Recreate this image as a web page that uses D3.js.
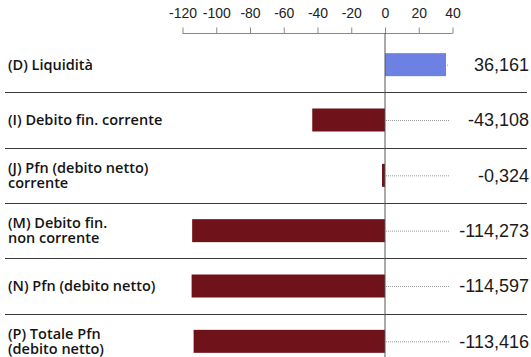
<!DOCTYPE html>
<html>
<head>
<meta charset="utf-8">
<script src="https://cdn.jsdelivr.net/npm/d3@7"></script>
<style>
html,body{margin:0;padding:0;background:#fff;}
svg{display:block;}
</style>
</head>
<body>
<svg id="chart" width="531" height="357"></svg>
<script>
const categories = [
  ["(D) Liquidità"],
  ["(I) Debito fin. corrente"],
  ["(J) Pfn (debito netto)", "corrente"],
  ["(M) Debito fin.", "non corrente"],
  ["(N) Pfn (debito netto)"],
  ["(P) Totale Pfn", "(debito netto)"]
];
const values = [36.161, -43.108, -0.324, -114.273, -114.597, -113.416];
const valueLabels = ["36,161", "-43,108", "-0,324", "-114,273", "-114,597", "-113,416"];
const tickValues = [-120, -100, -80, -60, -40, -20, 0, 20, 40];

const svg = d3.select("#chart");
const x = d3.scaleLinear().domain([-120, 40]).range([182.5, 452.5]);
const y = d3.scaleBand().domain(d3.range(categories.length)).range([37, 369]).paddingInner(0);
const rowH = y.bandwidth();
const barH = 23;

// axis
const axis = d3.axisTop(x).tickValues(tickValues).tickSize(6).tickPadding(10)
  .tickFormat(d => String(d));
const ag = svg.append("g").attr("transform", "translate(0,33.5)").call(axis);
ag.select(".domain").attr("stroke", "#8a8a8a").attr("d", `M${x(-120)},0H${x(40)}`);
ag.selectAll(".tick line").attr("stroke", "#8a8a8a");
ag.selectAll(".tick text").attr("fill", "#222").attr("font-family", "Liberation Sans, Arial, sans-serif")
  .attr("font-size", 14);

// separators
svg.selectAll("line.sep").data(d3.range(1, categories.length)).join("line")
  .attr("class", "sep")
  .attr("x1", 5).attr("x2", 527)
  .attr("y1", i => Math.round(y(i)) + 0.5).attr("y2", i => Math.round(y(i)) + 0.5)
  .attr("stroke", "#3a3a3a").attr("stroke-width", 1.2);

// dotted leaders
svg.selectAll("line.lead").data(values).join("line")
  .attr("class", "lead")
  .attr("x1", d => x(Math.max(0, d)) + 1).attr("x2", 449)
  .attr("y1", (d, i) => y(i) + rowH / 2 + 0.5).attr("y2", (d, i) => y(i) + rowH / 2 + 0.5)
  .attr("stroke", "#999").attr("stroke-width", 1).attr("stroke-dasharray", "1,1");

// bars (minimum visible width of 3px)
svg.selectAll("rect.bar").data(values).join("rect")
  .attr("class", "bar")
  .attr("x", d => Math.min(x(Math.min(0, d)), d < 0 ? x(0) - 3 : x(0)))
  .attr("width", d => Math.max(3, Math.abs(x(d) - x(0))))
  .attr("y", (d, i) => y(i) + rowH / 2 - barH / 2)
  .attr("height", barH)
  .attr("fill", d => d >= 0 ? "#6c81e1" : "#6f1219");

// zero line
svg.append("line").attr("x1", x(0)).attr("x2", x(0)).attr("y1", 33).attr("y2", 357)
  .attr("stroke", "#555").attr("stroke-width", 1);

// category labels
const lab = svg.selectAll("text.cat").data(categories).join("text")
  .attr("class", "cat")
  .attr("x", 8)
  .attr("font-family", "Open Sans, sans-serif").attr("font-weight", 600)
  .attr("font-size", 14.5).attr("fill", "#141414");
lab.each(function(lines, i) {
  const cy = y(i) + rowH / 2;
  const lh = 15.5;
  const t = d3.select(this);
  lines.forEach((l, k) => {
    t.append("tspan").attr("x", 8)
      .attr("y", cy + (k - (lines.length - 1) / 2) * lh)
      .attr("dy", "0.35em").text(l);
  });
});

// value labels
svg.selectAll("text.val").data(valueLabels).join("text")
  .attr("class", "val")
  .attr("x", 529).attr("text-anchor", "end")
  .attr("y", (d, i) => y(i) + rowH / 2).attr("dy", "0.35em")
  .attr("font-family", "Liberation Sans, Arial, sans-serif").attr("font-size", 18)
  .attr("fill", "#1a1a1a").text(d => d);
</script>
</body>
</html>
